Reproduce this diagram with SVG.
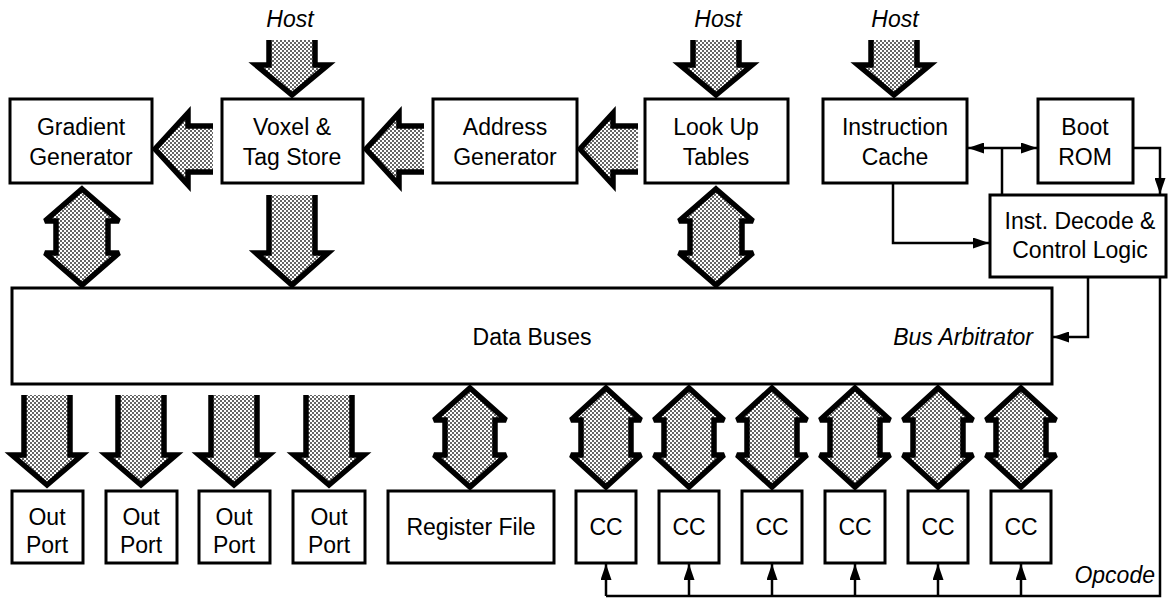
<svg xmlns="http://www.w3.org/2000/svg" width="1168" height="598" viewBox="0 0 1168 598">
<defs>
<pattern id="stip" width="4" height="4" patternUnits="userSpaceOnUse">
<rect width="4" height="4" fill="#fff"/>
<rect width="2" height="2" fill="#666"/>
<rect x="2" y="2" width="2" height="2" fill="#666"/>
</pattern>
<marker id="ah" viewBox="0 0 16 11" refX="16" refY="5.5" markerWidth="16" markerHeight="11" markerUnits="userSpaceOnUse" orient="auto-start-reverse">
<path d="M0 0 L16 5.5 L0 11 Z" fill="#000"/>
</marker>
</defs>
<style>
.box{fill:#fff;stroke:#000;stroke-width:3}
.t{font-family:"Liberation Sans",Arial,sans-serif;font-size:23px;fill:#000;text-anchor:middle}
.it{font-style:italic}
.fat{fill:url(#stip);stroke:none}
.fo{fill:none;stroke:#000;stroke-width:5.5;stroke-linejoin:miter;stroke-miterlimit:10}
.fd{fill:url(#stip);stroke:#000;stroke-width:5.5;stroke-linejoin:miter;stroke-miterlimit:2.5}
.ln{fill:none;stroke:#000;stroke-width:2.5}
</style>
<rect width="1168" height="598" fill="#fff"/>

<g id="connectors">
<!-- Host inputs -->
<path class="fat" d="M269 40 V65 H256 L292 95 L328 65 H315 V40 Z"/>
<path class="fo" d="M269 40 V65 H256 L292 95 L328 65 H315 V40"/>
<path class="fat" d="M693 40 V65 H680 L716 95 L752 65 H739 V40 Z"/>
<path class="fo" d="M693 40 V65 H680 L716 95 L752 65 H739 V40"/>
<path class="fat" d="M871 40 V65 H858 L894 95 L930 65 H917 V40 Z"/>
<path class="fo" d="M871 40 V65 H858 L894 95 L930 65 H917 V40"/>
<!-- left arrows -->
<path class="fat" d="M213 126 H188 V113 L155 149 L188 185 V172 H213 Z"/>
<path class="fo" d="M213 126 H188 V113 L155 149 L188 185 V172 H213"/>
<path class="fat" d="M424 126 H399 V113 L366 149 L399 185 V172 H424 Z"/>
<path class="fo" d="M424 126 H399 V113 L366 149 L399 185 V172 H424"/>
<path class="fat" d="M638 126 H613 V113 L580 149 L613 185 V172 H638 Z"/>
<path class="fo" d="M638 126 H613 V113 L580 149 L613 185 V172 H638"/>
<!-- Voxel to bus -->
<path class="fat" d="M269 195 V253 H256 L292 285 L328 253 H315 V195 Z"/>
<path class="fo" d="M269 195 V253 H256 L292 285 L328 253 H315 V195"/>
<!-- double arrows top -->
<path class="fd" d="M82 189 L119 221 H108 V253 H119 L82 285 L45 253 H56 V221 H45 Z"/>
<path class="fd" d="M716 189 L753 221 H742 V253 H753 L716 285 L679 253 H690 V221 H679 Z"/>
<!-- Out port arrows -->
<path class="fat" d="M24 395 V455 H12 L47 485 L82 455 H70 V395 Z"/>
<path class="fo" d="M24 395 V455 H12 L47 485 L82 455 H70 V395"/>
<path class="fat" d="M118 395 V455 H106 L141 485 L176 455 H164 V395 Z"/>
<path class="fo" d="M118 395 V455 H106 L141 485 L176 455 H164 V395"/>
<path class="fat" d="M211 395 V455 H199 L234 485 L269 455 H257 V395 Z"/>
<path class="fo" d="M211 395 V455 H199 L234 485 L269 455 H257 V395"/>
<path class="fat" d="M306 395 V455 H294 L329 485 L364 455 H352 V395 Z"/>
<path class="fo" d="M306 395 V455 H294 L329 485 L364 455 H352 V395"/>
<!-- Register file double -->
<path class="fd" d="M470 388 L506 420 H495 V455 H506 L470 487 L434 455 H445 V420 H434 Z"/>
<!-- CC doubles -->
<path class="fd" d="M606 388 L641 420 H631 V455 H641 L606 487 L571 455 H581 V420 H571 Z"/>
<path class="fd" d="M689 388 L724 420 H714 V455 H724 L689 487 L654 455 H664 V420 H654 Z"/>
<path class="fd" d="M772 388 L807 420 H797 V455 H807 L772 487 L737 455 H747 V420 H737 Z"/>
<path class="fd" d="M855 388 L890 420 H880 V455 H890 L855 487 L820 455 H830 V420 H820 Z"/>
<path class="fd" d="M938 388 L973 420 H963 V455 H973 L938 487 L903 455 H913 V420 H903 Z"/>
<path class="fd" d="M1021 388 L1056 420 H1046 V455 H1056 L1021 487 L986 455 H996 V420 H986 Z"/>
<!-- control lines -->
<path class="ln" d="M968 148 H1037" marker-start="url(#ah)" marker-end="url(#ah)"/>
<path class="ln" d="M1002 148 V195"/>
<path class="ln" d="M1133 148 H1160 V194" marker-end="url(#ah)"/>
<path class="ln" d="M893 183 V243 H989" marker-end="url(#ah)"/>
<path class="ln" d="M1088 277 V337 H1053" marker-end="url(#ah)"/>
<path class="ln" d="M1160 277 V596 H606"/>
<path class="ln" d="M606 596 V564" marker-end="url(#ah)"/>
<path class="ln" d="M689 596 V564" marker-end="url(#ah)"/>
<path class="ln" d="M772 596 V564" marker-end="url(#ah)"/>
<path class="ln" d="M855 596 V564" marker-end="url(#ah)"/>
<path class="ln" d="M938 596 V564" marker-end="url(#ah)"/>
<path class="ln" d="M1021 596 V564" marker-end="url(#ah)"/>
</g>

<g id="host-labels">
<text class="t it" x="290" y="27">Host</text>
<text class="t it" x="718" y="27">Host</text>
<text class="t it" x="895" y="27">Host</text>
</g>

<g id="gradient-generator">
<rect class="box" x="10" y="99" width="142" height="84"/>
<text class="t" x="81" y="135">Gradient</text>
<text class="t" x="81" y="165">Generator</text>
</g>
<g id="voxel-tag-store">
<rect class="box" x="222" y="99" width="141" height="84"/>
<text class="t" x="292" y="135">Voxel &amp;</text>
<text class="t" x="292" y="165">Tag Store</text>
</g>
<g id="address-generator">
<rect class="box" x="433" y="99" width="144" height="84"/>
<text class="t" x="505" y="135">Address</text>
<text class="t" x="505" y="165">Generator</text>
</g>
<g id="look-up-tables">
<rect class="box" x="645" y="99" width="143" height="84"/>
<text class="t" x="716" y="135">Look Up</text>
<text class="t" x="716" y="165">Tables</text>
</g>
<g id="instruction-cache">
<rect class="box" x="823" y="99" width="144" height="84"/>
<text class="t" x="895" y="135">Instruction</text>
<text class="t" x="895" y="165">Cache</text>
</g>
<g id="boot-rom">
<rect class="box" x="1038" y="99" width="95" height="84"/>
<text class="t" x="1085" y="135">Boot</text>
<text class="t" x="1085" y="165">ROM</text>
</g>
<g id="inst-decode">
<rect class="box" x="990" y="195" width="176" height="82"/>
<text class="t" x="1080" y="229">Inst. Decode &amp;</text>
<text class="t" x="1080" y="258">Control Logic</text>
</g>
<g id="data-buses">
<rect class="box" x="12" y="288" width="1040" height="96"/>
<text class="t" x="532" y="345">Data Buses</text>
<text class="t it" x="1033" y="345" style="text-anchor:end">Bus Arbitrator</text>
</g>
<g id="out-port-1">
<rect class="box" x="12" y="491" width="71" height="72"/>
<text class="t" x="47" y="525">Out</text>
<text class="t" x="47" y="553">Port</text>
</g>
<g id="out-port-2">
<rect class="box" x="106" y="491" width="71" height="72"/>
<text class="t" x="141" y="525">Out</text>
<text class="t" x="141" y="553">Port</text>
</g>
<g id="out-port-3">
<rect class="box" x="199" y="491" width="71" height="72"/>
<text class="t" x="234" y="525">Out</text>
<text class="t" x="234" y="553">Port</text>
</g>
<g id="out-port-4">
<rect class="box" x="293" y="491" width="72" height="72"/>
<text class="t" x="329" y="525">Out</text>
<text class="t" x="329" y="553">Port</text>
</g>
<g id="register-file">
<rect class="box" x="388" y="491" width="166" height="72"/>
<text class="t" x="471" y="535">Register File</text>
</g>
<g id="cc-1"><rect class="box" x="576" y="491" width="60" height="72"/><text class="t" x="606" y="535">CC</text></g>
<g id="cc-2"><rect class="box" x="659" y="491" width="60" height="72"/><text class="t" x="689" y="535">CC</text></g>
<g id="cc-3"><rect class="box" x="742" y="491" width="60" height="72"/><text class="t" x="772" y="535">CC</text></g>
<g id="cc-4"><rect class="box" x="825" y="491" width="60" height="72"/><text class="t" x="855" y="535">CC</text></g>
<g id="cc-5"><rect class="box" x="908" y="491" width="60" height="72"/><text class="t" x="938" y="535">CC</text></g>
<g id="cc-6"><rect class="box" x="991" y="491" width="60" height="72"/><text class="t" x="1021" y="535">CC</text></g>
<g id="opcode-label">
<text class="t it" x="1155" y="583" style="text-anchor:end">Opcode</text>
</g>
</svg>
